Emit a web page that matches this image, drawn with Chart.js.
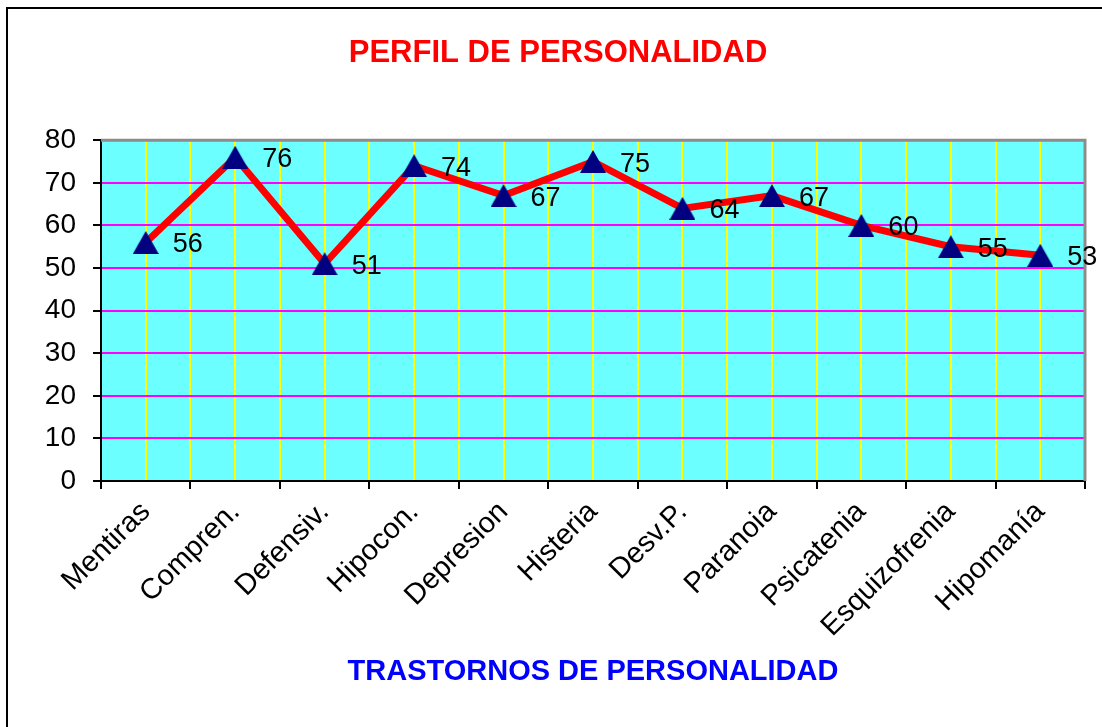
<!DOCTYPE html>
<html>
<head>
<meta charset="utf-8">
<title>Perfil de personalidad</title>
<script src="https://cdn.jsdelivr.net/npm/chart.js@4"></script>
<style>
  html, body { margin: 0; padding: 0; background: #ffffff; }
  #wrap { position: relative; width: 1102px; height: 727px; }
</style>
</head>
<body>
<div id="wrap"><canvas id="perfilChart"></canvas></div>
<script>
// categories + scores
const labels = ["Mentiras", "Compren.", "Defensiv.", "Hipocon.", "Depresion", "Histeria",
    "Desv.P.", "Paranoia", "Psicatenia", "Esquizofrenia", "Hipomanía"];
const scores = [56, 76, 51, 74, 67, 75, 64, 67, 60, 55, 53];
const yTicks = [0, 10, 20, 30, 40, 50, 60, 70, 80];

const FONT = "'Liberation Sans', Arial, Helvetica, sans-serif";

// navy triangle marker, centred on its box like the original
const marker = document.createElement("canvas");
marker.width = 26;
marker.height = 23;
(function () {
    const m = marker.getContext("2d");
    m.fillStyle = "#000080";
    m.beginPath();
    m.moveTo(13, 0);
    m.lineTo(26, 23);
    m.lineTo(0, 23);
    m.closePath();
    m.fill();
})();

// background, frame, center lines, plot border and point values
const decor = {
    id: "decor",
    beforeDraw(chart) {
        const ctx = chart.ctx;
        const area = chart.chartArea;
        const x = chart.scales.x;
        ctx.save();
        // frame of the picture (only left and top show)
        ctx.strokeStyle = "#000000";
        ctx.lineWidth = 2;
        ctx.beginPath();
        ctx.moveTo(7, chart.height);
        ctx.lineTo(7, 8);
        ctx.lineTo(chart.width, 8);
        ctx.stroke();
        // plot background
        ctx.fillStyle = "#6bffff";
        ctx.fillRect(area.left, area.top, area.right - area.left, area.bottom - area.top);
        // yellow lines through each category
        ctx.strokeStyle = "#ffff00";
        ctx.lineWidth = 2;
        for (let i = 0; i < labels.length; i++) {
            const px = Math.round(x.getPixelForValue(i));
            ctx.beginPath();
            ctx.moveTo(px, area.top);
            ctx.lineTo(px, area.bottom);
            ctx.stroke();
        }
        ctx.restore();
    },
    beforeDatasetsDraw(chart) {
        const ctx = chart.ctx;
        const area = chart.chartArea;
        ctx.save();
        ctx.strokeStyle = "#8c8c8c";
        ctx.lineWidth = 3;
        ctx.beginPath();
        ctx.moveTo(area.left, area.top);
        ctx.lineTo(area.right, area.top);
        ctx.lineTo(area.right, area.bottom);
        ctx.stroke();
        ctx.restore();
    },
    afterDatasetsDraw(chart) {
        const ctx = chart.ctx;
        const meta = chart.getDatasetMeta(0);
        ctx.save();
        ctx.fillStyle = "#000000";
        ctx.font = "27px " + FONT;
        ctx.textAlign = "left";
        ctx.textBaseline = "alphabetic";
        meta.data.forEach((pt, i) => {
            ctx.fillText(String(scores[i]), pt.x + 27, pt.y + 10);
        });
        ctx.restore();
    }
};

new Chart(document.getElementById("perfilChart"), {
    type: "line",
    data: {
        labels: labels,
        datasets: [
            {
                label: "Perfil",
                data: scores,
                borderColor: "#ff0000",
                borderWidth: 7,
                tension: 0,
                fill: false,
                pointStyle: marker,
                pointRadius: 13,
                pointHoverRadius: 13,
                pointBorderWidth: 0,
                pointHoverBorderWidth: 0
            }
        ]
    },
    options: {
        responsive: true,
        maintainAspectRatio: false,
        animation: false,
        layout: {
            padding: { left: 31, right: 17, top: 0, bottom: 0 }
        },
        plugins: {
            legend: { display: false },
            tooltip: { enabled: false },
            title: {
                display: true,
                text: "PERFIL DE PERSONALIDAD",
                color: "#ff0000",
                font: { family: FONT, size: 31, weight: "bold" },
                padding: { top: 35, bottom: 68 }
            }
        },
        scales: {
            x: {
                offset: true,
                afterFit: function (scale) {
                    scale.height = 246;
                    scale.paddingLeft = 0;
                    scale.paddingRight = 0;
                },
                grid: {
                    offset: true,
                    color: "#ffff00",
                    lineWidth: 2,
                    tickColor: "#000000",
                    tickLength: 8
                },
                border: { color: "#000000", width: 2 },
                ticks: {
                    autoSkip: false,
                    minRotation: 45,
                    maxRotation: 45,
                    color: "#000000",
                    padding: 6,
                    font: { family: FONT, size: 29 }
                },
                title: {
                    display: true,
                    text: "TRASTORNOS DE PERSONALIDAD",
                    color: "#0000ff",
                    font: { family: FONT, size: 29, weight: "bold" },
                    padding: { top: 0, bottom: 38 }
                }
            },
            y: {
                min: yTicks[0],
                max: yTicks[yTicks.length - 1],
                afterFit: function (scale) {
                    scale.width = 70;
                    scale.paddingTop = 0;
                    scale.paddingBottom = 0;
                },
                afterBuildTicks: function (scale) {
                    scale.ticks = yTicks.map(v => ({ value: v }));
                },
                grid: {
                    color: "#ff00ff",
                    lineWidth: 2,
                    tickColor: "#000000",
                    tickLength: 8
                },
                border: { color: "#000000", width: 2 },
                ticks: {
                    color: "#000000",
                    padding: 17,
                    font: { family: FONT, size: 28 }
                }
            }
        }
    },
    plugins: [decor]
});
</script>
</body>
</html>
